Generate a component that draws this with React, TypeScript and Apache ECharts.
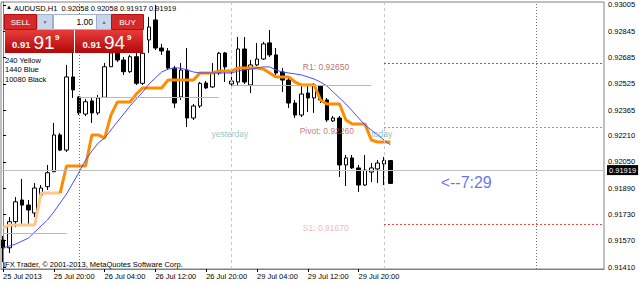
import React, { useEffect, useRef } from "react";
import * as echarts from "echarts";

const FONT = '"Liberation Sans", Arial, sans-serif';

// time axis: bar index -> label
const xTickIdx = [0, 8, 16, 24, 32, 40, 48, 56];
const xTickLabels = [
  "25 Jul 2013",
  "25 Jul 20:00",
  "26 Jul 04:00",
  "26 Jul 12:00",
  "26 Jul 20:00",
  "29 Jul 04:00",
  "29 Jul 12:00",
  "29 Jul 20:00",
];
const yTickLabels = [
  "0.93005", "0.92845", "0.92685", "0.92525", "0.92365", "0.92210",
  "0.92050", "0.91890", "0.91730", "0.91570", "0.91410",
];

// H1 candles: open, high, low, close
const candles: number[][] = [
  [0.91574, 0.91599, 0.9144, 0.91526],
  [0.91527, 0.91714, 0.91495, 0.91686],
  [0.91686, 0.91836, 0.91653, 0.91807],
  [0.91818, 0.91946, 0.91666, 0.91787],
  [0.91787, 0.91818, 0.91666, 0.91757],
  [0.91739, 0.91921, 0.91714, 0.91891],
  [0.91848, 0.91909, 0.91836, 0.91891],
  [0.91899, 0.92031, 0.91879, 0.91984],
  [0.9199, 0.92287, 0.91988, 0.92214],
  [0.92214, 0.92226, 0.92116, 0.92122],
  [0.92122, 0.9264, 0.9211, 0.92567],
  [0.92567, 0.92713, 0.92439, 0.92488],
  [0.92445, 0.92451, 0.92335, 0.92348],
  [0.92341, 0.92433, 0.92329, 0.92416],
  [0.92421, 0.92439, 0.92287, 0.92348],
  [0.92348, 0.92457, 0.92335, 0.92439],
  [0.92443, 0.92652, 0.92439, 0.92629],
  [0.92629, 0.92731, 0.92628, 0.92713],
  [0.92713, 0.92719, 0.92658, 0.9267],
  [0.9267, 0.92688, 0.92579, 0.92599],
  [0.92599, 0.92701, 0.92591, 0.9269],
  [0.9269, 0.92713, 0.92518, 0.92528],
  [0.92528, 0.92743, 0.92518, 0.92711],
  [0.92792, 0.92932, 0.92713, 0.92871],
  [0.92914, 0.93005, 0.92731, 0.92743],
  [0.92743, 0.92768, 0.92701, 0.92725],
  [0.92725, 0.92743, 0.92609, 0.92621],
  [0.92621, 0.92634, 0.92378, 0.92408],
  [0.92445, 0.92652, 0.92427, 0.92609],
  [0.92609, 0.92743, 0.92262, 0.92317],
  [0.92317, 0.92402, 0.92305, 0.9239],
  [0.9239, 0.92536, 0.92378, 0.92528],
  [0.9253, 0.92542, 0.92494, 0.925],
  [0.92506, 0.92652, 0.925, 0.92591],
  [0.92591, 0.92719, 0.92579, 0.92711],
  [0.92713, 0.92719, 0.92536, 0.92628],
  [0.92524, 0.92609, 0.92506, 0.92542],
  [0.92536, 0.9281, 0.92518, 0.92737],
  [0.92737, 0.9281, 0.92524, 0.92536],
  [0.92518, 0.9267, 0.92469, 0.9264],
  [0.9264, 0.92774, 0.92634, 0.92676],
  [0.92676, 0.9278, 0.9267, 0.92768],
  [0.92774, 0.92853, 0.92688, 0.92701],
  [0.92701, 0.92743, 0.92579, 0.92591],
  [0.92597, 0.92621, 0.92475, 0.92548],
  [0.92548, 0.92561, 0.92378, 0.92408],
  [0.92408, 0.92427, 0.92317, 0.92335],
  [0.92335, 0.92512, 0.92323, 0.92463],
  [0.92469, 0.92524, 0.92354, 0.92439],
  [0.92439, 0.9253, 0.92348, 0.92518],
  [0.92512, 0.92518, 0.92408, 0.92427],
  [0.92427, 0.92439, 0.92293, 0.92305],
  [0.92299, 0.92329, 0.92293, 0.92317],
  [0.92317, 0.92329, 0.91958, 0.92031],
  [0.92031, 0.92092, 0.91903, 0.92074],
  [0.92074, 0.92092, 0.92007, 0.92013],
  [0.92013, 0.92031, 0.91867, 0.91909],
  [0.91909, 0.92092, 0.91903, 0.92],
  [0.91988, 0.92043, 0.91927, 0.92013],
  [0.92007, 0.92061, 0.91921, 0.92043],
  [0.92037, 0.9208, 0.91909, 0.92058],
  [0.92058, 0.92058, 0.91917, 0.91919],
];

// 240 (H4) moving average, drawn orange
const ma240 = [
  0.91647, 0.91666, 0.91666, 0.91666, 0.91666, 0.91666, 0.9186, 0.9186, 0.9186, 0.9186,
  0.92025, 0.92025, 0.92025, 0.92025, 0.92214, 0.92214, 0.92195, 0.92335, 0.92414, 0.92414,
  0.92414, 0.92463, 0.925, 0.925, 0.925, 0.925, 0.92548, 0.92548, 0.92548, 0.92548,
  0.92548, 0.92591, 0.92591, 0.92591, 0.92603, 0.92603, 0.92603, 0.92621, 0.92621, 0.92621,
  0.92621, 0.92615, 0.92591, 0.92567, 0.92567, 0.92567, 0.92536, 0.92518, 0.92518, 0.92518,
  0.92427, 0.92402, 0.92402, 0.92402, 0.92305, 0.92281, 0.92281, 0.92281, 0.92183, 0.92171,
  0.92171, 0.92171,
];

// 1440 (D1) moving average, drawn blue
const ma1440 = [
  0.91526, 0.91538, 0.9155, 0.91568, 0.91586, 0.91623, 0.9166, 0.91696, 0.91745, 0.918,
  0.91854, 0.91921, 0.91988, 0.92061, 0.92116, 0.92165, 0.92195, 0.92244, 0.92293, 0.92341,
  0.9239, 0.92433, 0.92475, 0.92524, 0.92561, 0.92597, 0.92615, 0.92621, 0.92621, 0.92609,
  0.92597, 0.92591, 0.92591, 0.92591, 0.92591, 0.92591, 0.92591, 0.92603, 0.92609, 0.92615,
  0.92621, 0.92628, 0.92628, 0.92609, 0.92597, 0.92591, 0.92585, 0.92579, 0.92567, 0.92554,
  0.92536, 0.92512, 0.92475, 0.92439, 0.92402, 0.9236, 0.92317, 0.92274, 0.92244, 0.92214,
  0.92183, 0.92153,
];

const bid = 0.91919;
const levelNames = ["R1", "Pivot", "S1"];
const levelValues = [0.9265, 0.9226, 0.9167];
const levelStart = 60;
const dayLineStart = [0, 12, 36];
const dayLineEnd = [10, 34, 58];
const dayLineValue = [0.91617, 0.92445, 0.92518];
const darkSeparators = [12, 84];
const lightSeparators = [36, 60];

const annoText = [
  `${levelNames[0]}: ${levelValues[0].toFixed(5)}`,
  `${levelNames[1]}: ${levelValues[1].toFixed(5)}`,
  `${levelNames[2]}: ${levelValues[2].toFixed(5)}`,
  "yesterday",
  "today",
  "<--7:29",
];
const annoX = [47.3, 46.8, 47.3, 32.9, 58.1, 69];
const annoY = [0.9265, 0.9226, 0.9167, 0.92245, 0.92245, 0.91919];

const X_MIN = -0.315;
const X_MAX = 94.65;
const Y_MIN = 0.91398;
const Y_MAX = 0.93023;

export default function App() {
  const ref = useRef<HTMLDivElement>(null);
  useEffect(() => {
    document.body.style.margin = "0";
    const chart = echarts.init(ref.current!, undefined, { renderer: "svg" });
    const yTickValues = yTickLabels.map(Number);
    const annoColor = ["#b04848", "#c05252", "#eaa8a8", "#84b4b4", "#70aaaa", "#3b4ff5"];
    const annoSize = [8.5, 8.5, 8.5, 8.5, 8.5, 16];
    const red = new echarts.graphic.LinearGradient(0, 0, 0, 1, [
      { offset: 0, color: "#e63c3c" },
      { offset: 1, color: "#b40808" },
    ]);
    const btnFill = "#c9d6ea";
    const last = candles[candles.length - 1];
    const txt = (x: number, y: number, text: string, extra: any = {}) => ({
      type: "text",
      x,
      y,
      z: 100,
      style: {
        text,
        fill: "#000",
        fontSize: 7.5,
        fontFamily: FONT,
        verticalAlign: "middle",
        align: "left",
        ...extra,
      },
    });
    const rect = (x: number, y: number, w: number, h: number, fill: any, stroke?: string) => ({
      type: "rect",
      z: 99,
      shape: { x, y, width: w, height: h },
      style: { fill, stroke: stroke || null, lineWidth: 1 },
    });

    const markLineData: any[] = [];
    darkSeparators.forEach((v) =>
      markLineData.push({ xAxis: v, lineStyle: { color: "#707070", type: [1, 2], width: 1 } })
    );
    lightSeparators.forEach((v) =>
      markLineData.push({ xAxis: v, lineStyle: { color: "#c8c8c8", type: [3, 3], width: 1 } })
    );
    dayLineValue.forEach((v, i) =>
      markLineData.push([
        { coord: [dayLineStart[i], v], lineStyle: { color: "#b8b8b8", type: "solid", width: 1 } },
        { coord: [dayLineEnd[i], v] },
      ])
    );
    const levelColors = ["#5a5aff", "#ff50ff", "#f04545"];
    levelValues.forEach((v, i) =>
      markLineData.push([
        { coord: [levelStart, v], lineStyle: { color: levelColors[i], type: [2, 2], width: 1 } },
        { coord: [X_MAX, v] },
      ])
    );
    markLineData.push({
      yAxis: bid,
      lineStyle: { color: "#c0c0c0", type: "solid", width: 1 },
      label: {
        show: true,
        position: "end",
        distance: 3,
        formatter: () => bid.toFixed(5),
        backgroundColor: "#000",
        color: "#fff",
        fontSize: 7.5,
        fontFamily: FONT,
        padding: [1, 2, 1, 2],
      },
    });

    const option: any = {
      animation: false,
      backgroundColor: "#fff",
      textStyle: { fontFamily: FONT },
      grid: {
        left: 1,
        right: 35,
        top: 2,
        bottom: 15,
        show: true,
        borderColor: "#808080",
        borderWidth: 1,
        backgroundColor: "transparent",
      },
      xAxis: {
        type: "value",
        min: X_MIN,
        max: X_MAX,
        axisLine: { show: true, onZero: false, lineStyle: { color: "#808080" } },
        splitLine: { show: false },
        axisTick: { show: true, customValues: xTickIdx, length: 3, lineStyle: { color: "#000" } },
        axisLabel: {
          show: true,
          customValues: xTickIdx,
          formatter: (v: number) => {
            const k = xTickIdx.indexOf(Math.round(v));
            return k >= 0 ? xTickLabels[k] : "";
          },
          align: "left",
          margin: 3,
          fontSize: 7.5,
          color: "#000",
          fontFamily: FONT,
        },
      },
      yAxis: {
        type: "value",
        position: "right",
        min: Y_MIN,
        max: Y_MAX,
        scale: true,
        axisLine: { show: true, lineStyle: { color: "#808080" } },
        splitLine: { show: false },
        axisTick: { show: true, customValues: yTickValues, length: 3, lineStyle: { color: "#000" } },
        axisLabel: {
          show: true,
          customValues: yTickValues,
          formatter: (v: number) => v.toFixed(5),
          margin: 4,
          fontSize: 7.5,
          color: "#000",
          fontFamily: FONT,
        },
      },
      series: [
        {
          type: "candlestick",
          data: candles.map((c, i) => [i, c[0], c[3], c[2], c[1]]),
          encode: { x: 0, y: [1, 2, 3, 4] },
          barWidth: 4,
          itemStyle: {
            color: "#fff",
            color0: "#000",
            borderColor: "#000",
            borderColor0: "#000",
            borderWidth: 1,
          },
          markLine: {
            silent: true,
            symbol: ["none", "none"],
            label: { show: false },
            animation: false,
            data: markLineData,
          },
        },
        {
          type: "line",
          data: ma240.slice(0, 10).map((v, i) => [i, v]),
          showSymbol: false,
          silent: true,
          lineStyle: { color: "#ffc78f", width: 3 },
          z: 3,
        },
        {
          type: "line",
          data: ma240.map((v, i) => [i, v]).slice(9),
          showSymbol: false,
          silent: true,
          lineStyle: { color: "#ff8c00", width: 3 },
          z: 3,
        },
        {
          type: "line",
          data: ma1440.map((v, i) => [i, v]),
          showSymbol: false,
          silent: true,
          lineStyle: { color: "#4a4aff", width: 1 },
          z: 4,
        },
        {
          type: "scatter",
          symbolSize: 1,
          silent: true,
          itemStyle: { color: "rgba(0,0,0,0)" },
          z: 6,
          data: annoText.map((t, i) => ({
            value: [annoX[i], annoY[i]],
            label: {
              show: true,
              formatter: () => t,
              position: [0, 0],
              align: "left",
              verticalAlign: i === 5 ? "middle" : "top",
              color: annoColor[i],
              fontSize: annoSize[i],
              fontFamily: FONT,
            },
          })),
        },
      ],
      graphic: [
        txt(6, 7, "▲", { fontSize: 6 }),
        txt(14, 8, `AUDUSD,H1  ${last[0].toFixed(5)} ${last[1].toFixed(5)} ${last[2].toFixed(5)} ${last[3].toFixed(5)}`),
        rect(4.5, 14.5, 32, 15, "#d42a2a", "#b01010"),
        txt(20.5, 22, "SELL", { fill: "#fff", align: "center", fontSize: 8 }),
        rect(37.5, 14.5, 15, 15, btnFill, "#9fb0cc"),
        txt(45, 22, "▼", { fill: "#5a6e90", align: "center", fontSize: 5 }),
        rect(53.5, 14.5, 43, 15, "#fff", "#9fb0cc"),
        txt(93, 22, "1.00", { align: "right", fontSize: 8.5 }),
        rect(96.5, 14.5, 15, 15, btnFill, "#9fb0cc"),
        txt(104, 22, "▲", { fill: "#5a6e90", align: "center", fontSize: 5 }),
        rect(111.5, 14.5, 32, 15, "#d42a2a", "#b01010"),
        txt(127.5, 22, "BUY", { fill: "#fff", align: "center", fontSize: 8 }),
        rect(5, 30, 69, 23, red),
        rect(75, 30, 68, 23, red),
        txt(12, 44, "0.91", { fill: "#fff", fontSize: 9.5, fontWeight: "bold" }),
        txt(33.5, 42.5, "91", { fill: "#fff", fontSize: 19 }),
        txt(55, 37.5, "9", { fill: "#fff", fontSize: 8, fontWeight: "bold" }),
        txt(82.5, 44, "0.91", { fill: "#fff", fontSize: 9.5, fontWeight: "bold" }),
        txt(104, 42.5, "94", { fill: "#fff", fontSize: 19 }),
        txt(127, 37.5, "9", { fill: "#fff", fontSize: 8, fontWeight: "bold" }),
        txt(5, 60, "240 Yellow"),
        txt(5, 69.5, "1440 Blue"),
        txt(5, 79, "10080 Black"),
        txt(3, 264, "IFX Trader, © 2001-2013, MetaQuotes Software Corp."),
      ],
    };
    chart.setOption(option);
    return () => chart.dispose();
  }, []);
  return <div ref={ref} style={{ width: 639, height: 284 }} />;
}
